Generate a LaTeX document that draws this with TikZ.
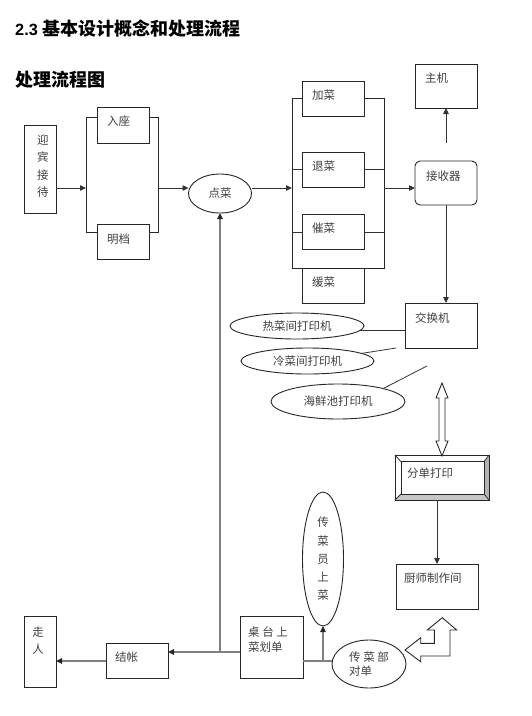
\documentclass[tikz,border=0pt]{standalone}
\usepackage{fontspec}
\newfontfamily\cjk{Noto Sans CJK SC}
\newfontfamily\arial{Liberation Sans}
\usetikzlibrary{positioning,arrows.meta,shapes.geometric}

\tikzset{
  box/.style={draw=black!85, line width=0.9pt, fill=white, inner sep=0pt, outer sep=0pt},
  oval/.style={ellipse, draw=black!85, line width=0.9pt, fill=white, inner sep=0pt, outer sep=0pt,
    font=\cjk\fontsize{11.5}{14}\selectfont, text=black!75},
  lbl/.style={font=\cjk\fontsize{11.5}{14}\selectfont, text=black!75, inner sep=0pt, anchor=west},
  heading/.style={font=\cjk\bfseries\fontsize{18}{20}\selectfont, inner sep=0pt, anchor=west},
  link/.style={draw=black!80, line width=0.8pt},
  flow/.style={link, -{Triangle[length=6pt,width=5.5pt]}},
  back/.style={draw=gray, line width=2pt},
  backflow/.style={back, -{Triangle[length=6pt,width=5.5pt,color=black!85]}},
  hollow/.style={draw=black!85, line width=0.9pt, fill=white, line join=miter}
}

\begin{document}
\begin{tikzpicture}[x=1pt, y=-1pt]
\useasboundingbox (0,0) rectangle (531,716);

% Headings
\node[heading] (title) at (15,29) {{\arial\bfseries\fontsize{16.3}{20}\selectfont 2.3 }基本设计概念和处理流程};
\node[heading] (subtitle) at (15,79.5) {处理流程图};

% Levels of the horizontal connectors
\coordinate (mainrow) at (0,188);
\coordinate (billrow) at (0,652);
\coordinate (servrow) at (0,661);

% Reception and seating
\node[box, minimum width=32pt, minimum height=88pt] (yingbin) at (40,169) {};
\node[lbl, anchor=center, align=center, font=\cjk\fontsize{11.5}{17.3}\selectfont] (yingbin-t) at (43,166) {迎\\宾\\接\\待};
\node[box, fill=none, minimum width=72pt, minimum height=115pt] (seat) at (122,174.5) {};
\node[box, minimum width=52pt, minimum height=36pt] (ruzuo) at (123,125) {};
\node[lbl] (ruzuo-t) at (107,121) {入座};
\node[box, minimum width=52pt, minimum height=35pt] (mingdang) at (123,241.5) {};
\node[lbl] (mingdang-t) at (107,239) {明档};

% Ordering
\node[oval, minimum width=63pt, minimum height=39pt] (diancai) at (220,193.5) {点菜};

% Changes to the order
\node[box, fill=none, minimum width=92pt, minimum height=170pt] (change) at (338,183) {};
\foreach \name/\txt/\y in {jiacai/加菜/98.5, tuicai/退菜/169.5, cuicai/催菜/232, huancai/缓菜/285.5} {
    \node[box, minimum width=62pt, minimum height=35pt] (\name) at (333,\y) {};
    \node[lbl] (\name-t) at (312,\y-3.7) {\txt};
}
\foreach \name in {tuicai, cuicai} {
    \draw[link] (change.west |- \name) -- (\name.west);
    \draw[link] (\name.east) -- (change.east |- \name);
}

% Receiver, host and switch
\node[box, rounded corners=5pt, minimum width=62pt, minimum height=44pt] (jieshou) at (446,183) {};
\node[lbl] (jieshou-t) at (426,176) {接收器};
\node[box, minimum width=62pt, minimum height=44pt] (zhuji) at (446,86) {};
\node[lbl] (zhuji-t) at (425,78) {主机};
\node[box, minimum width=72pt, minimum height=45pt] (jiaohuan) at (441,325.5) {};
\node[lbl] (jiaohuan-t) at (415,318) {交换机};
\coordinate (up-start) at (446,143);

% Printers
\node[oval, minimum width=134pt, minimum height=26pt] (recai) at (297,326) {热菜间打印机};
\node[oval, minimum width=133pt, minimum height=26pt] (lengcai) at (307.5,361) {冷菜间打印机};
\node[oval, minimum width=134pt, minimum height=35pt] (haixian) at (338,401.5) {海鲜池打印机};
\coordinate (leng-end) at (396,348);
\coordinate (hai-end) at (427,366);

% Order printing (bevelled box)
\node[box, minimum width=94pt, minimum height=45pt] (fendan) at (442,477.5) {};
\fill[gray!60] (489,455) -- (489,500) -- (484,494) -- (484,461.7) -- cycle;
\fill[gray!45] (395,500) -- (489,500) -- (484,494) -- (401,494) -- cycle;
\node[box, minimum width=83pt, minimum height=32.3pt] (fendan-in) at (442.5,477.85) {};
\foreach \a in {north west, north east, south west, south east}
    \draw[link] (fendan.\a) -- (fendan-in.\a);
\draw[box, fill=none] (fendan.north west) rectangle (fendan.south east);
\node[lbl] (fendan-t) at (407,473) {分单打印};

% Kitchen
\node[box, minimum width=82pt, minimum height=45pt] (chushi) at (437,586.5) {};
\node[lbl] (chushi-t) at (404,578) {厨师制作间};

% Serving
\node[box, minimum width=63pt, minimum height=62pt] (zhuotai) at (271.5,647) {};
\node[lbl, align=left, font=\cjk\fontsize{11.5}{15}\selectfont] (zhuotai-t) at (248,639.5) {桌 台 上\\菜划单};
\node[oval, minimum width=41pt, minimum height=134pt, align=center, font=\cjk\fontsize{11.5}{18.3}\selectfont] (chuanyuan) at (323,559) {传\\菜\\员\\上\\菜};
\node[oval, minimum width=74pt, minimum height=48pt, align=left] (chuancaibu) at (369,664) {传 菜 部\\对单};

% Checkout
\node[box, minimum width=62pt, minimum height=35pt] (jiezhang) at (137,660.5) {};
\node[lbl] (jiezhang-t) at (115,657) {结帐};
\node[box, minimum width=32pt, minimum height=71pt] (zouren) at (40,651.5) {};
\node[lbl, anchor=center, align=center, font=\cjk\fontsize{11.5}{17}\selectfont] (zouren-t) at (38,640.5) {走\\人};

% Main flow
\draw[flow] (yingbin.east |- mainrow) -- (seat.west |- mainrow);
\draw[flow] (seat.east |- mainrow) -- (diancai.west |- mainrow);
\draw[flow] (diancai.east |- mainrow) -- (change.west |- mainrow);
\draw[flow] (change.east |- mainrow) -- (jieshou.west |- mainrow);
\draw[flow] (up-start) -- (zhuji.south);
\draw[flow] (jieshou.south) -- (jieshou.south |- jiaohuan.north);

% Printer links
\draw[link] (recai.-4) -- (jiaohuan.west |- recai.-4);
\draw[link] (lengcai.8) -- (leng-end);
\draw[link] (haixian.16) -- (hai-end);

% Double hollow arrow between switch and order printing
\coordinate (dbl) at (442,383);
\draw[hollow] (dbl) -- ++(6,15) -- ++(-3,0) -- ++(0,43) -- ++(3,0) -- ++(-6,15)
    -- ++(-6,-15) -- ++(3,0) -- ++(0,-43) -- ++(-3,0) -- cycle;
\draw[flow] (chushi.north |- fendan.south) -- (chushi.north);

% Bent hollow arrow from the kitchen
\coordinate (bent) at (405,650);
\draw[hollow] (bent) -- ++(15.7,-12.3) -- ++(0,5.6) -- ++(13.6,0) -- ++(0,-13.3) -- ++(-7,0)
    -- ++(15,-12.3) -- ++(14.4,12.3) -- ++(-6.7,0) -- ++(0,26) -- ++(-29.3,0) -- ++(0,5.7) -- cycle;

% Serving and checkout path
\draw[backflow] (zhuotai.west |- billrow) -- (jiezhang.east |- billrow);
\draw[backflow] (diancai.south |- billrow) -- (diancai.south);
\draw[backflow] (jiezhang.west |- servrow) -- (zouren.east |- servrow);
\draw[back] (zhuotai.east |- servrow) -- (chuancaibu.west |- servrow);
\draw[backflow] (chuanyuan.south |- servrow) -- (chuanyuan.south);

\end{tikzpicture}
\end{document}
